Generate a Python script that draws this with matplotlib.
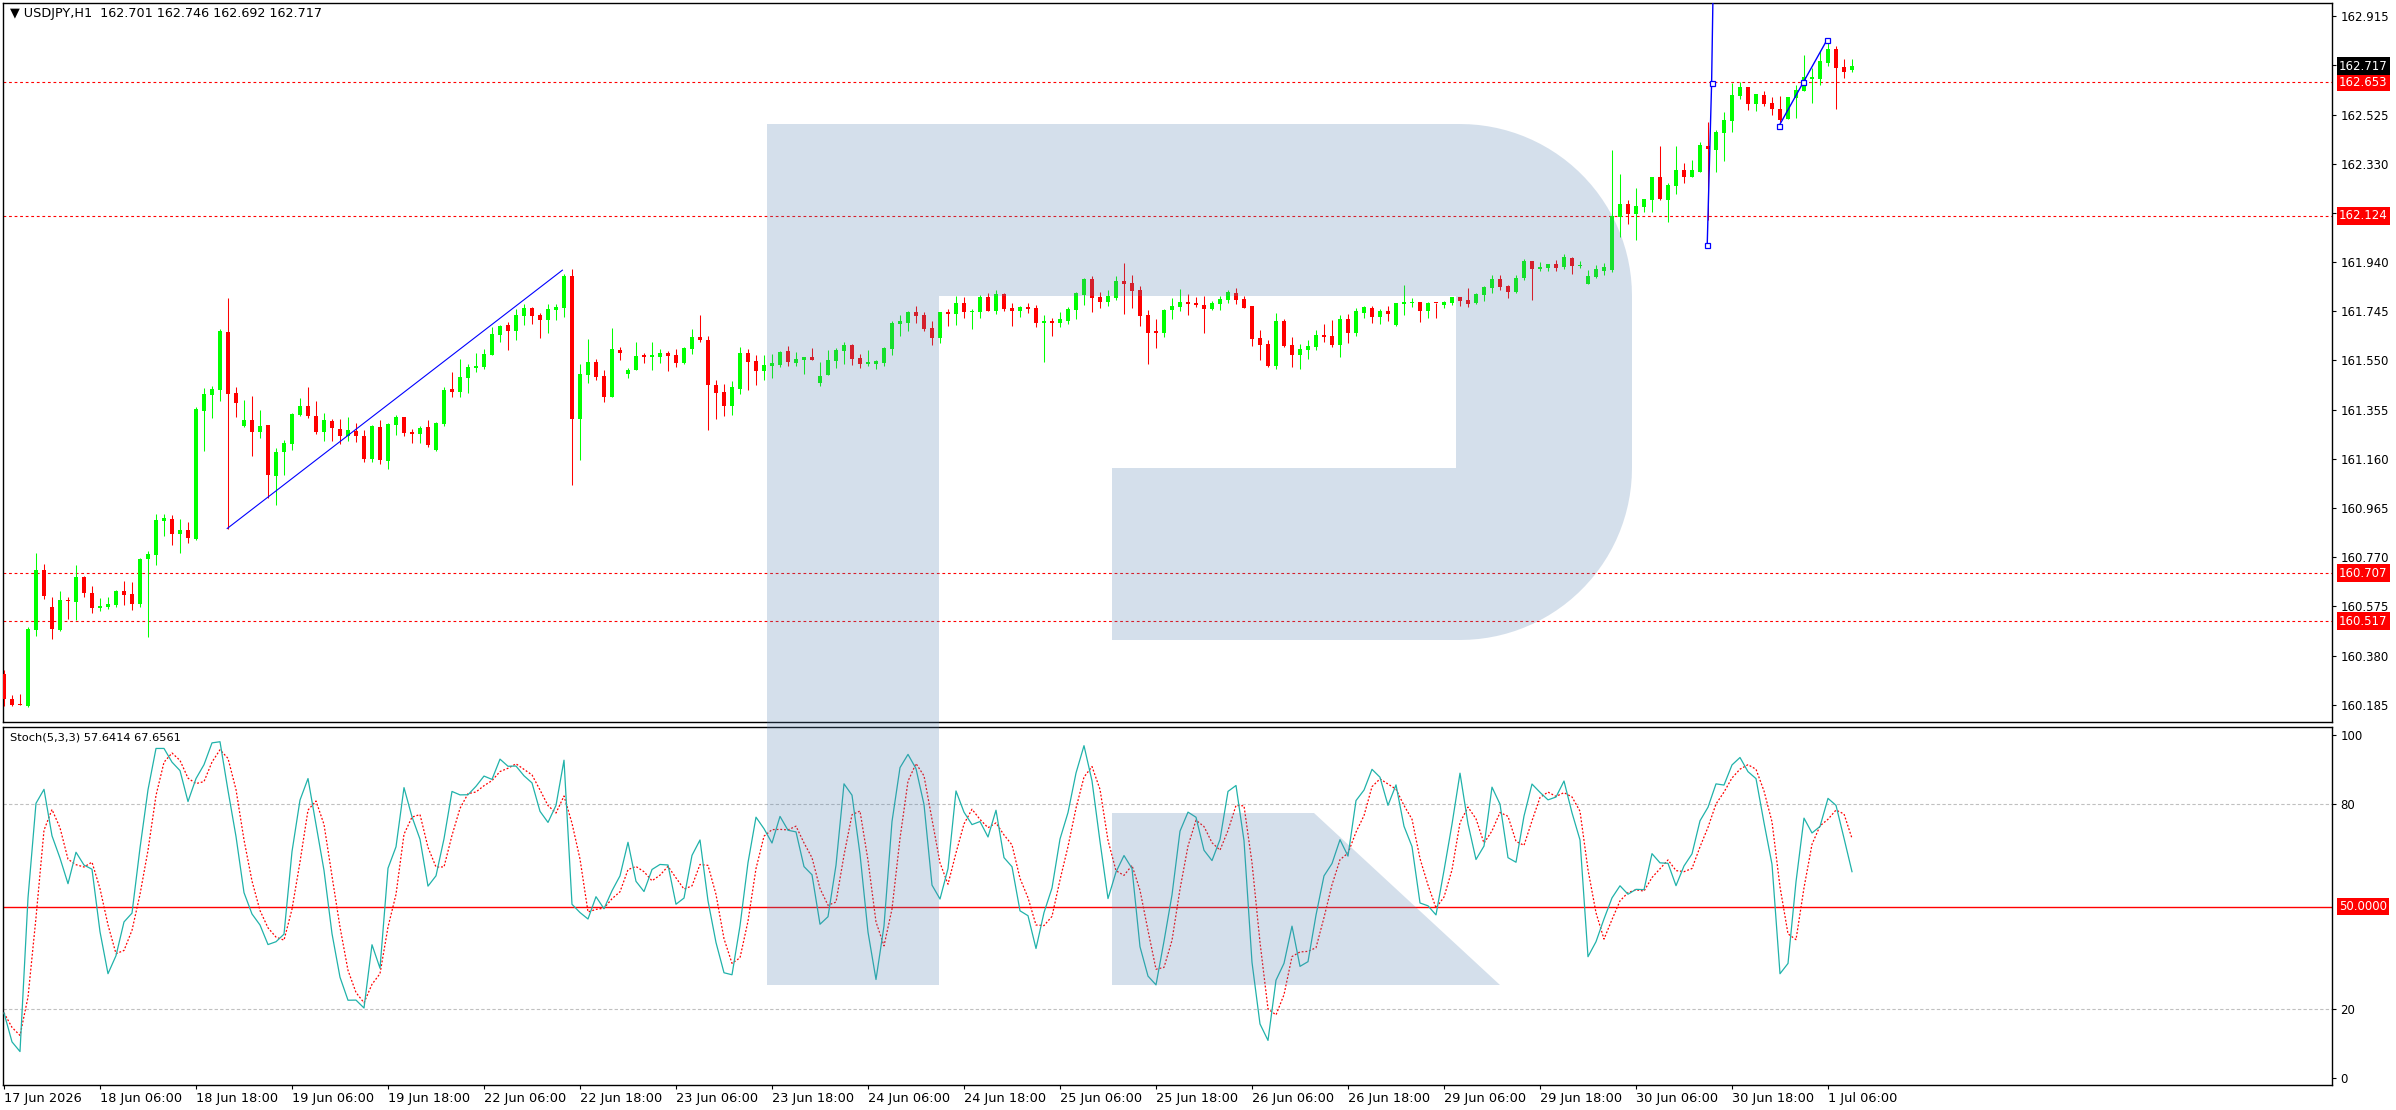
import numpy as np
import pandas as pd
import matplotlib
matplotlib.use("Agg")
import matplotlib.pyplot as plt
import matplotlib.transforms as mtransforms
from matplotlib.path import Path
from matplotlib.patches import PathPatch

W, H = 2396, 1110

# USDJPY H1, one row per bar: open, high, low, close
ohlc = [
    (160.308, 160.324, 160.182, 160.209), (160.209, 160.226, 160.182, 160.185),
    (160.187, 160.229, 160.184, 160.185), (160.180, 160.492, 160.176, 160.485),
    (160.481, 160.787, 160.457, 160.720), (160.720, 160.744, 160.605, 160.617),
    (160.573, 160.613, 160.445, 160.485), (160.481, 160.637, 160.478, 160.601),
    (160.601, 160.613, 160.525, 160.597), (160.594, 160.740, 160.521, 160.692),
    (160.692, 160.695, 160.614, 160.627), (160.629, 160.657, 160.550, 160.570),
    (160.570, 160.609, 160.558, 160.578), (160.574, 160.613, 160.565, 160.585),
    (160.581, 160.641, 160.571, 160.637), (160.637, 160.676, 160.582, 160.622),
    (160.625, 160.672, 160.561, 160.586), (160.586, 160.769, 160.574, 160.764),
    (160.763, 160.796, 160.453, 160.784), (160.780, 160.940, 160.740, 160.916),
    (160.913, 160.940, 160.856, 160.924), (160.920, 160.936, 160.820, 160.864),
    (160.864, 160.920, 160.788, 160.880), (160.880, 160.908, 160.828, 160.848),
    (160.844, 161.366, 160.840, 161.357), (161.351, 161.440, 161.192, 161.417),
    (161.414, 161.448, 161.323, 161.436), (161.434, 161.674, 161.390, 161.666),
    (161.662, 161.797, 160.884, 161.418), (161.421, 161.444, 161.325, 161.380),
    (161.292, 161.393, 161.285, 161.314), (161.314, 161.410, 161.172, 161.268),
    (161.265, 161.352, 161.242, 161.292), (161.294, 161.296, 161.006, 161.095),
    (161.092, 161.205, 160.977, 161.189), (161.189, 161.234, 161.096, 161.223),
    (161.219, 161.342, 161.195, 161.338), (161.335, 161.401, 161.329, 161.368),
    (161.368, 161.444, 161.322, 161.330), (161.328, 161.389, 161.260, 161.268),
    (161.268, 161.343, 161.231, 161.314), (161.310, 161.318, 161.231, 161.281),
    (161.278, 161.320, 161.219, 161.252), (161.252, 161.324, 161.231, 161.274),
    (161.272, 161.301, 161.225, 161.249), (161.252, 161.274, 161.148, 161.159),
    (161.159, 161.294, 161.148, 161.292), (161.286, 161.314, 161.139, 161.156),
    (161.152, 161.302, 161.119, 161.298), (161.294, 161.334, 161.254, 161.324),
    (161.324, 161.326, 161.252, 161.264), (161.268, 161.278, 161.224, 161.260),
    (161.260, 161.290, 161.222, 161.282), (161.286, 161.314, 161.208, 161.215),
    (161.195, 161.306, 161.192, 161.302), (161.298, 161.444, 161.290, 161.432),
    (161.436, 161.504, 161.405, 161.425), (161.425, 161.555, 161.405, 161.484),
    (161.480, 161.536, 161.421, 161.524), (161.520, 161.579, 161.504, 161.529),
    (161.524, 161.595, 161.516, 161.575), (161.571, 161.682, 161.571, 161.654),
    (161.650, 161.690, 161.623, 161.686), (161.690, 161.702, 161.591, 161.666),
    (161.666, 161.754, 161.631, 161.730), (161.726, 161.773, 161.690, 161.757),
    (161.757, 161.761, 161.694, 161.726), (161.730, 161.738, 161.639, 161.710),
    (161.710, 161.773, 161.658, 161.754), (161.752, 161.773, 161.710, 161.761),
    (161.757, 161.892, 161.722, 161.884), (161.884, 161.912, 161.055, 161.318),
    (161.318, 161.536, 161.155, 161.496), (161.493, 161.635, 161.460, 161.543),
    (161.543, 161.555, 161.472, 161.485), (161.488, 161.512, 161.385, 161.406),
    (161.406, 161.678, 161.405, 161.595), (161.591, 161.603, 161.551, 161.580),
    (161.496, 161.520, 161.480, 161.512), (161.512, 161.623, 161.512, 161.567),
    (161.571, 161.579, 161.539, 161.563), (161.563, 161.623, 161.512, 161.571),
    (161.563, 161.595, 161.539, 161.579), (161.579, 161.587, 161.508, 161.567),
    (161.571, 161.595, 161.524, 161.539), (161.539, 161.603, 161.536, 161.599),
    (161.595, 161.674, 161.575, 161.643), (161.643, 161.730, 161.623, 161.631),
    (161.631, 161.647, 161.274, 161.452), (161.452, 161.472, 161.320, 161.421),
    (161.425, 161.456, 161.329, 161.369), (161.369, 161.468, 161.333, 161.444),
    (161.436, 161.603, 161.417, 161.579), (161.579, 161.595, 161.432, 161.543),
    (161.547, 161.571, 161.452, 161.508), (161.508, 161.571, 161.472, 161.532),
    (161.528, 161.575, 161.480, 161.539), (161.532, 161.587, 161.524, 161.583),
    (161.587, 161.607, 161.528, 161.543), (161.539, 161.583, 161.528, 161.555),
    (161.551, 161.563, 161.496, 161.563), (161.563, 161.599, 161.551, 161.551),
    (161.460, 161.543, 161.448, 161.488), (161.492, 161.591, 161.492, 161.551),
    (161.547, 161.599, 161.520, 161.591), (161.587, 161.623, 161.536, 161.611),
    (161.611, 161.615, 161.532, 161.555), (161.559, 161.575, 161.520, 161.536),
    (161.536, 161.591, 161.528, 161.543), (161.536, 161.551, 161.516, 161.547),
    (161.539, 161.603, 161.528, 161.599), (161.595, 161.706, 161.571, 161.698),
    (161.694, 161.730, 161.647, 161.706), (161.698, 161.746, 161.666, 161.742),
    (161.742, 161.765, 161.698, 161.726), (161.730, 161.742, 161.666, 161.674),
    (161.678, 161.706, 161.611, 161.639), (161.639, 161.742, 161.619, 161.742),
    (161.742, 161.754, 161.686, 161.734), (161.734, 161.805, 161.690, 161.777),
    (161.777, 161.801, 161.718, 161.742), (161.744, 161.754, 161.674, 161.746),
    (161.742, 161.809, 161.718, 161.801), (161.801, 161.817, 161.746, 161.746),
    (161.746, 161.829, 161.734, 161.813), (161.813, 161.817, 161.746, 161.754),
    (161.757, 161.777, 161.686, 161.746), (161.746, 161.765, 161.722, 161.761),
    (161.761, 161.777, 161.738, 161.754), (161.757, 161.769, 161.682, 161.698),
    (161.698, 161.730, 161.543, 161.706), (161.706, 161.718, 161.647, 161.698),
    (161.698, 161.742, 161.682, 161.714), (161.706, 161.761, 161.694, 161.754),
    (161.750, 161.821, 161.714, 161.817), (161.809, 161.876, 161.769, 161.872),
    (161.872, 161.884, 161.742, 161.797), (161.801, 161.821, 161.758, 161.782),
    (161.782, 161.829, 161.766, 161.805), (161.797, 161.885, 161.790, 161.865),
    (161.865, 161.936, 161.734, 161.854), (161.857, 161.889, 161.758, 161.825),
    (161.829, 161.845, 161.687, 161.726), (161.730, 161.750, 161.536, 161.659),
    (161.667, 161.714, 161.599, 161.659), (161.659, 161.754, 161.643, 161.750),
    (161.750, 161.798, 161.714, 161.766), (161.762, 161.833, 161.746, 161.782),
    (161.782, 161.813, 161.730, 161.774), (161.778, 161.801, 161.762, 161.770),
    (161.770, 161.805, 161.659, 161.754), (161.754, 161.786, 161.750, 161.778),
    (161.774, 161.805, 161.750, 161.794), (161.790, 161.829, 161.778, 161.821),
    (161.817, 161.837, 161.774, 161.790), (161.794, 161.805, 161.758, 161.758),
    (161.766, 161.766, 161.607, 161.635), (161.639, 161.671, 161.552, 161.611),
    (161.615, 161.631, 161.524, 161.528), (161.528, 161.738, 161.516, 161.706),
    (161.706, 161.714, 161.603, 161.607), (161.611, 161.643, 161.524, 161.572),
    (161.572, 161.615, 161.516, 161.595), (161.591, 161.631, 161.556, 161.607),
    (161.603, 161.671, 161.591, 161.651), (161.651, 161.695, 161.623, 161.643),
    (161.647, 161.710, 161.603, 161.611), (161.611, 161.730, 161.564, 161.714),
    (161.714, 161.734, 161.619, 161.659), (161.659, 161.758, 161.647, 161.746),
    (161.738, 161.766, 161.718, 161.762), (161.758, 161.766, 161.699, 161.722),
    (161.722, 161.754, 161.695, 161.746), (161.746, 161.766, 161.706, 161.734),
    (161.690, 161.778, 161.687, 161.778), (161.774, 161.849, 161.730, 161.782),
    (161.779, 161.798, 161.762, 161.781), (161.782, 161.782, 161.702, 161.746),
    (161.746, 161.782, 161.718, 161.778), (161.778, 161.778, 161.718, 161.776),
    (161.770, 161.786, 161.758, 161.782), (161.778, 161.801, 161.770, 161.801),
    (161.801, 161.801, 161.766, 161.786), (161.790, 161.837, 161.762, 161.774),
    (161.778, 161.817, 161.774, 161.813), (161.809, 161.845, 161.786, 161.841),
    (161.837, 161.889, 161.817, 161.873), (161.873, 161.889, 161.829, 161.841),
    (161.845, 161.849, 161.798, 161.821), (161.821, 161.889, 161.817, 161.877),
    (161.877, 161.952, 161.869, 161.944), (161.944, 161.944, 161.790, 161.912),
    (161.912, 161.940, 161.904, 161.920), (161.916, 161.932, 161.904, 161.932),
    (161.932, 161.948, 161.904, 161.916), (161.920, 161.972, 161.912, 161.960),
    (161.956, 161.960, 161.893, 161.924), (161.926, 161.944, 161.916, 161.928),
    (161.853, 161.908, 161.853, 161.885), (161.881, 161.928, 161.875, 161.912),
    (161.905, 161.935, 161.890, 161.922), (161.910, 162.383, 161.900, 162.122),
    (162.119, 162.288, 162.040, 162.169), (162.169, 162.185, 162.090, 162.130),
    (162.130, 162.233, 162.027, 162.161), (162.158, 162.189, 162.138, 162.189),
    (162.185, 162.276, 162.138, 162.276), (162.276, 162.399, 162.185, 162.189),
    (162.185, 162.253, 162.098, 162.245), (162.241, 162.399, 162.209, 162.304),
    (162.304, 162.332, 162.253, 162.276), (162.276, 162.344, 162.276, 162.304),
    (162.296, 162.415, 162.296, 162.403), (162.399, 162.494, 162.106, 162.389),
    (162.383, 162.463, 162.296, 162.455), (162.451, 162.534, 162.340, 162.502),
    (162.498, 162.649, 162.455, 162.601), (162.598, 162.653, 162.586, 162.633),
    (162.633, 162.635, 162.542, 162.566), (162.566, 162.607, 162.538, 162.605),
    (162.601, 162.617, 162.558, 162.566), (162.570, 162.594, 162.522, 162.546),
    (162.546, 162.598, 162.494, 162.502), (162.506, 162.594, 162.506, 162.594),
    (162.590, 162.641, 162.510, 162.621), (162.617, 162.760, 162.617, 162.673),
    (162.665, 162.708, 162.570, 162.673), (162.665, 162.776, 162.641, 162.736),
    (162.728, 162.812, 162.716, 162.784), (162.784, 162.796, 162.546, 162.708),
    (162.712, 162.744, 162.669, 162.693), (162.701, 162.746, 162.692, 162.717),
]
opens = [r[0] for r in ohlc]
highs = [r[1] for r in ohlc]
lows = [r[2] for r in ohlc]
closes = [r[3] for r in ohlc]

# one label every 12 bars, starting at bar 0
time_labels = ["17 Jun 2026", "18 Jun 06:00", "18 Jun 18:00", "19 Jun 06:00",
               "19 Jun 18:00", "22 Jun 06:00", "22 Jun 18:00", "23 Jun 06:00",
               "23 Jun 18:00", "24 Jun 06:00", "24 Jun 18:00", "25 Jun 06:00",
               "25 Jun 18:00", "26 Jun 06:00", "26 Jun 18:00", "29 Jun 06:00",
               "29 Jun 18:00", "30 Jun 06:00", "30 Jun 18:00", "1 Jul 06:00"]

price_ticks = [160.185, 160.380, 160.575, 160.770, 160.965, 161.160, 161.355,
               161.550, 161.745, 161.940, 162.135, 162.330, 162.525, 162.720, 162.915]
price_tick_labels = ["160.185", "160.380", "160.575", "160.770", "160.965", "161.160",
                     "161.355", "161.550", "161.745", "161.940", "", "162.330",
                     "162.525", "", "162.915"]
level_lines = [162.653, 162.124, 160.707, 160.517]
last_price = 162.717

# drawn objects: (bar, price) anchor points
trend_x = [27.9, 69.8]
trend_y = [160.884, 161.908]
ray_x = [212.9, 213.45, 213.65]
ray_y = [162.006, 162.648, 163.05]
ray_marks_x = [212.9, 213.45]
ray_marks_y = [162.006, 162.648]
short_x = [221.9, 224.9, 227.9]
short_y = [162.481, 162.652, 162.822]

stoch_ticks = [0, 20, 80, 100]
stoch_level = 50.0

HEADER = "\u25bc USDJPY,H1  162.701 162.746 162.692 162.717"
STOCH_HEADER = "Stoch(5,3,3) 57.6414 67.6561"

UP = "#00ff00"
DOWN = "#ff0000"
FONT = 8.5


def stochastic(high, low, close, k=5, slow=3, d=3):
    df = pd.DataFrame({"h": high, "l": low, "c": close})
    ll = df["l"].rolling(k, min_periods=1).min()
    hh = df["h"].rolling(k, min_periods=1).max()
    num = (df["c"] - ll).rolling(slow, min_periods=1).sum()
    den = (hh - ll).rolling(slow, min_periods=1).sum()
    main = 100.0 * num / den
    signal = main.rolling(d, min_periods=1).mean()
    return main.to_numpy(), signal.to_numpy()


def px_axes(fig, left, top, right, bottom):
    return fig.add_axes([left / W, 1 - bottom / H, (right - left) / W, (bottom - top) / H])


def right_box(ax, y, text, color, fg="white"):
    tr = mtransforms.blended_transform_factory(ax.transAxes, ax.transData)
    ax.text(1 + 7 / 2329, y, text, transform=tr, ha="left", va="center",
            fontsize=FONT, color=fg, clip_on=False, zorder=6,
            bbox=dict(boxstyle="square,pad=0.2", fc=color, ec="none"))


def logo_patch():
    # stem + bowl as one outline, leg separately (pixel coords, y down)
    r = 172
    a1 = np.linspace(-np.pi / 2, 0, 30)
    a2 = np.linspace(0, np.pi / 2, 30)
    pts = [(767, 124), (1460, 124)]
    pts += [(1460 + r * np.cos(a), 296 + r * np.sin(a)) for a in a1]
    pts += [(1632, 468)]
    pts += [(1460 + r * np.cos(a), 468 + r * np.sin(a)) for a in a2]
    pts += [(1112, 640), (1112, 468), (1456, 468), (1456, 296), (939, 296),
            (939, 985), (767, 985), (767, 124)]
    leg = [(1112, 813), (1314, 813), (1500, 985), (1112, 985), (1112, 813)]
    verts, codes = [], []
    for poly in (pts, leg):
        for j, (x, y) in enumerate(poly):
            verts.append((x / W, 1 - y / H))
            codes.append(Path.MOVETO if j == 0 else Path.LINETO)
        codes[-1] = Path.CLOSEPOLY
    return PathPatch(Path(verts, codes), fc="#5582b2", ec="none", alpha=0.25)


def main():
    plt.rcParams["font.family"] = ["DejaVu Sans"]
    n = len(opens)
    x = np.arange(n)
    o, hi, lo, c = map(np.asarray, (opens, highs, lows, closes))
    colors = np.where(c >= o, UP, DOWN)

    fig = plt.figure(figsize=(W / 100, H / 100), dpi=100)
    ax = px_axes(fig, 3, 3, 2332, 722)
    ax2 = px_axes(fig, 3, 727, 2332, 1085)

    # candles
    ax.vlines(x, lo, hi, colors=colors, lw=0.75, zorder=3)
    body = np.maximum(np.abs(c - o), 0.004)
    ax.bar(x, body, bottom=np.minimum(o, c), width=0.62, color=colors,
           linewidth=0, zorder=4)

    for lvl in level_lines:
        ax.axhline(lvl, color="#ff0000", lw=0.8, ls=(0, (2.5, 2.5)), zorder=2)

    ax.plot(trend_x, trend_y, color="#0000ff", lw=0.8, zorder=5)
    ax.plot(ray_x, ray_y, color="#0000ff", lw=1.0, zorder=5)
    ax.plot(ray_marks_x, ray_marks_y, ls="none", marker="s", ms=3.6,
            mfc="white", mec="#0000ff", mew=0.9, zorder=6)
    ax.plot(short_x, short_y, color="#0000ff", lw=1.0, marker="s", ms=3.6,
            mfc="white", mec="#0000ff", mew=0.9, zorder=6)

    ax.set_xlim(-0.125, 291.0)
    ax.set_ylim(160.117, 162.967)
    ax.set_xticks([])
    ax.yaxis.tick_right()
    ax.set_yticks(price_ticks)
    ax.set_yticklabels(price_tick_labels)
    ax.tick_params(axis="y", direction="out", length=3, width=0.8, pad=3,
                   labelsize=FONT, colors="black")
    ax.text(7 / 2329, 1 - 11 / 719, HEADER, transform=ax.transAxes, ha="left",
            va="center", fontsize=9.2, color="black")

    for lvl in level_lines:
        right_box(ax, lvl, f"{lvl:.3f}", "#ff0000")
    right_box(ax, last_price, f"{last_price:.3f}", "black")

    # stochastic panel
    k_line, d_line = stochastic(highs, lows, closes)
    ax2.axhline(80, color="#c0c0c0", lw=0.8, ls=(0, (3, 2)), zorder=1)
    ax2.axhline(20, color="#c0c0c0", lw=0.8, ls=(0, (3, 2)), zorder=1)
    ax2.axhline(stoch_level, color="#ff0000", lw=1.0, zorder=2)
    ax2.plot(x, k_line, color="#20b2aa", lw=0.9, zorder=4)
    ax2.plot(x, d_line, color="#ff0000", lw=0.9, ls=(0, (1.5, 1.5)), zorder=3)
    ax2.set_xlim(-0.125, 291.0)
    ax2.set_ylim(-2.0, 102.3)
    ax2.yaxis.tick_right()
    ax2.set_yticks(stoch_ticks)
    ax2.set_yticklabels([str(v) for v in stoch_ticks])
    ax2.tick_params(axis="y", direction="out", length=3, width=0.8, pad=3,
                    labelsize=FONT, colors="black")
    right_box(ax2, stoch_level, f"{stoch_level:.4f}", "#ff0000")
    ax2.text(7 / 2329, 1 - 10 / 358, STOCH_HEADER, transform=ax2.transAxes,
             ha="left", va="center", fontsize=8.2, color="black")

    ax2.set_xticks(np.arange(len(time_labels)) * 12)
    ax2.set_xticklabels(time_labels)
    ax2.tick_params(axis="x", direction="out", length=3, width=0.8, pad=2,
                    labelsize=9.3, colors="black")
    for lbl in ax2.get_xticklabels():
        lbl.set_ha("left")

    for a in (ax, ax2):
        for sp in a.spines.values():
            sp.set_color("black")
            sp.set_linewidth(1.0)
        a.set_facecolor("white")

    logo = logo_patch()
    logo.set_zorder(10)
    fig.add_artist(logo)

    fig.savefig("out.png", dpi=100, facecolor="white")


if __name__ == "__main__":
    main()
